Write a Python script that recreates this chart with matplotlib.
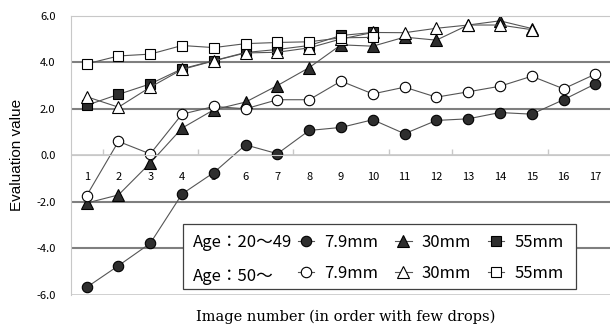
import matplotlib.pyplot as plt
from matplotlib.patches import Rectangle

plt.rcParams['font.family'] = ['Noto Sans CJK JP', 'DejaVu Sans']

# image number 1..17
images = list(range(1, 18))

# Age 20-49
young_79 = [-5.67, -4.74, -3.78, -1.66, -0.74, 0.45, 0.07, 1.07, 1.20, 1.53,
            0.93, 1.50, 1.57, 1.84, 1.77, 2.39, 3.07]
young_30 = [-2.05, -1.70, -0.33, 1.17, 1.96, 2.29, 3.00, 3.77, 4.75, 4.69,
            5.08, 4.95, 5.60, 5.78, 5.45]
young_55 = [2.15, 2.62, 3.07, 3.72, 4.07, 4.42, 4.55, 4.72, 5.15, 5.28]

# Age 50-
old_79 = [-1.73, 0.60, 0.06, 1.77, 2.10, 2.00, 2.39, 2.39, 3.19, 2.64,
          2.93, 2.50, 2.73, 2.97, 3.40, 2.86, 3.49]
old_30 = [2.52, 2.07, 2.93, 3.69, 4.06, 4.40, 4.43, 4.62, 5.00, 5.28,
          5.27, 5.46, 5.60, 5.60, 5.40]
old_55 = [3.93, 4.27, 4.35, 4.72, 4.63, 4.80, 4.85, 4.88, 5.05, 5.07]

yticks = [-6, -4, -2, 0, 2, 4, 6]
sizes = ['7.9mm', '30mm', '55mm']

fig = plt.figure(figsize=(6.1, 3.24), dpi=100)
ax = fig.add_axes([0.116, 0.0895, 0.886, 0.862])

dark = '#2e2e2e'
line_kw = dict(color='#555555', lw=0.8, markeredgecolor='black', markeredgewidth=0.8)

series = [
    (young_79, 'o', dark, 7.5),
    (young_30, '^', dark, 8),
    (young_55, 's', dark, 7),
    (old_79, 'o', 'white', 7.5),
    (old_30, '^', 'white', 8),
    (old_55, 's', 'white', 7),
]
handles = []
for vals, mk, fc, ms in series:
    h, = ax.plot(images[:len(vals)], vals, marker=mk, markerfacecolor=fc,
                 markersize=ms, **line_kw)
    handles.append(h)

ax.set_xlim(0.5, 17.5)
ax.set_ylim(-6, 6)

# y axis: gridlines, heavier at +-2 and +-4
ax.set_yticks(yticks)
ax.set_yticklabels([f'{v:.1f}' for v in yticks], fontsize=8)
ax.tick_params(axis='y', length=0, pad=11)
ax.yaxis.grid(True)
for v, gl in zip(yticks, ax.get_ygridlines()):
    if v in (-4, -2, 2, 4):
        gl.set_color('#7f7f7f')
        gl.set_linewidth(1.5)
    else:
        gl.set_color('#c8c8c8')
        gl.set_linewidth(1.2)
ax.set_axisbelow(True)

# category axis crossing at zero
ax.spines['bottom'].set_position(('data', 0))
ax.spines['bottom'].set_color('#c8c8c8')
ax.spines['left'].set_color('#c8c8c8')
ax.spines['top'].set_color('#c8c8c8')
ax.spines['right'].set_visible(False)
ax.set_xticks(images)
ax.set_xticklabels([str(i) for i in images], fontsize=8)
ax.tick_params(axis='x', length=0, pad=12)
ax.set_xticks([1.5, 4.5, 7.5, 10.5, 12.5, 15.5], minor=True)
ax.tick_params(axis='x', which='minor', direction='in', length=4,
               color='#c8c8c8', width=1)

ax.set_ylabel('Evaluation value', fontsize=11, family='Liberation Sans')
ax.yaxis.set_label_coords(-0.086, 0.5)
fig.text(0.567, 0.023, 'Image number (in order with few drops)', fontsize=10.5,
         family='DejaVu Serif', ha='center', va='center')

# legend frame with group captions
ax.add_patch(Rectangle((0.208, 0.0215), 0.727, 0.2325, transform=ax.transAxes,
                       facecolor='white', edgecolor='#404040', lw=0.9, zorder=5))
ax.text(0.226, 0.187, 'Age：20～49', transform=ax.transAxes, fontsize=12,
        va='center', zorder=6)
ax.text(0.226, 0.067, 'Age：50～', transform=ax.transAxes, fontsize=12,
        va='center', zorder=6)

leg_handles = []
leg_labels = []
for i in range(3):
    leg_handles += [handles[i], handles[i + 3]]
    leg_labels += [sizes[i], sizes[i]]
leg = ax.legend(leg_handles, leg_labels, ncol=3, loc='center left',
                bbox_to_anchor=(0.42, 0.132), frameon=False, fontsize=12,
                handlelength=1.0, handletextpad=0.6, columnspacing=1.0,
                labelspacing=0.85, borderpad=0.0, borderaxespad=0.0)
leg.set_zorder(7)

fig.savefig('out.png', dpi=100)
